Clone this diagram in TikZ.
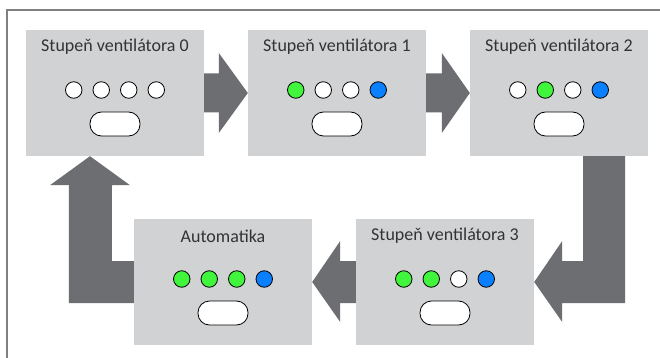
\documentclass[tikz,border=0pt]{standalone}
\usepackage{fontspec}
\setmainfont{Carlito}
\usetikzlibrary{calc}
\definecolor{panelgray}{HTML}{D1D2D4}
\definecolor{arrowgray}{HTML}{6D6E71}
\definecolor{framegray}{HTML}{808080}
\definecolor{ledgreen}{HTML}{40F53C}
\definecolor{ledblue}{HTML}{0A80FF}
\definecolor{titlegray}{HTML}{333333}
\tikzset{
  panel/.style={fill=panelgray, draw=none, minimum width=178pt, minimum height=126pt, inner sep=0pt},
  paneltitle/.style={text=titlegray, font=\fontsize{18}{21}\selectfont, inner sep=0pt},
  led/.style={circle, draw=black, line width=0.8pt, fill=#1, minimum size=16.5pt, inner sep=0pt},
  pill/.style={draw=black, line width=0.8pt, fill=white, rounded corners=11.5pt, minimum width=50pt, minimum height=24pt, inner sep=0pt},
  fatarrow/.style={fill=arrowgray, draw=none}
}
\newcommand\fanpanel[8]{%
  \node[panel] (#1) at (#2,#3) {};
  \node[paneltitle] (#1-t) at ($(#1)+(0,-46)$) {#4};
  \node[led=#5] (#1-l1) at ($(#1)+(-41.25,-3)$) {};
  \node[led=#6] (#1-l2) at ($(#1)+(-13.75,-3)$) {};
  \node[led=#7] (#1-l3) at ($(#1)+(13.75,-3)$) {};
  \node[led=#8] (#1-l4) at ($(#1)+(41.25,-3)$) {};
  \node[pill] (#1-p) at ($(#1)+(0,31)$) {};
}
\begin{document}
\begin{tikzpicture}[x=1pt, y=-1pt]
\useasboundingbox (0,0) rectangle (660,358);
\clip (0,0) rectangle (660,358);
\fill[white] (0,0) rectangle (660,358);
\draw[framegray, line width=1.5pt] (7,10) rectangle (720,420);
\fanpanel{b0}{115}{93}{Stupeň ventilátora 0}{white}{white}{white}{white}
\fanpanel{b1}{337}{93}{Stupeň ventilátora 1}{ledgreen}{white}{white}{ledblue}
\fanpanel{b2}{559}{93}{Stupeň ventilátora 2}{white}{ledgreen}{white}{ledblue}
\fanpanel{b3}{445}{282}{Stupeň ventilátora 3}{ledgreen}{ledgreen}{white}{ledblue}
\fanpanel{bA}{223}{282}{Automatika}{ledgreen}{ledgreen}{ledgreen}{ledblue}
% 0 -> 1
\fill[fatarrow] ($(b0.east)+(0,-19.5)$) -- ($(b1.west)+(-29,-19.5)$) -- ($(b1.west)+(-29,-40)$)
  -- (b1.west) -- ($(b1.west)+(-29,40)$) -- ($(b1.west)+(-29,19.5)$) -- ($(b0.east)+(0,19.5)$) -- cycle;
% 1 -> 2
\fill[fatarrow] ($(b1.east)+(0,-19.5)$) -- ($(b2.west)+(-28,-19.5)$) -- ($(b2.west)+(-28,-40)$)
  -- (b2.west) -- ($(b2.west)+(-28,40)$) -- ($(b2.west)+(-28,19.5)$) -- ($(b1.east)+(0,19.5)$) -- cycle;
% 3 -> A
\fill[fatarrow] ($(b3.west)+(0,-21)$) -- ($(bA.east)+(28,-21)$) -- ($(bA.east)+(28,-41)$)
  -- (bA.east) -- ($(bA.east)+(28,40)$) -- ($(bA.east)+(28,21)$) -- ($(b3.west)+(0,21)$) -- cycle;
% 2 -> 3 (L shape)
\fill[fatarrow] ($(b2.south)+(24,0)$) -- ($(b2.south)+(66,0)$) -- ($(b3.east)+(91,21)$)
  -- ($(b3.east)+(28,21)$) -- ($(b3.east)+(28,40)$) -- (b3.east) -- ($(b3.east)+(28,-41)$)
  -- ($(b3.east)+(28,-21)$) -- ($(b3.east)+(49,-21)$) -- cycle;
% A -> 0 (L shape)
\fill[fatarrow] ($(bA.west)+(0,-21)$) -- ($(bA.west)+(-22,-21)$) -- ($(b0.south)+(-3,29)$)
  -- ($(b0.south)+(15,29)$) -- ($(b0.south)+(-25,0)$) -- ($(b0.south)+(-65,29)$)
  -- ($(b0.south)+(-46,29)$) -- ($(bA.west)+(-65,21)$) -- ($(bA.west)+(0,21)$) -- cycle;
\end{tikzpicture}
\end{document}
